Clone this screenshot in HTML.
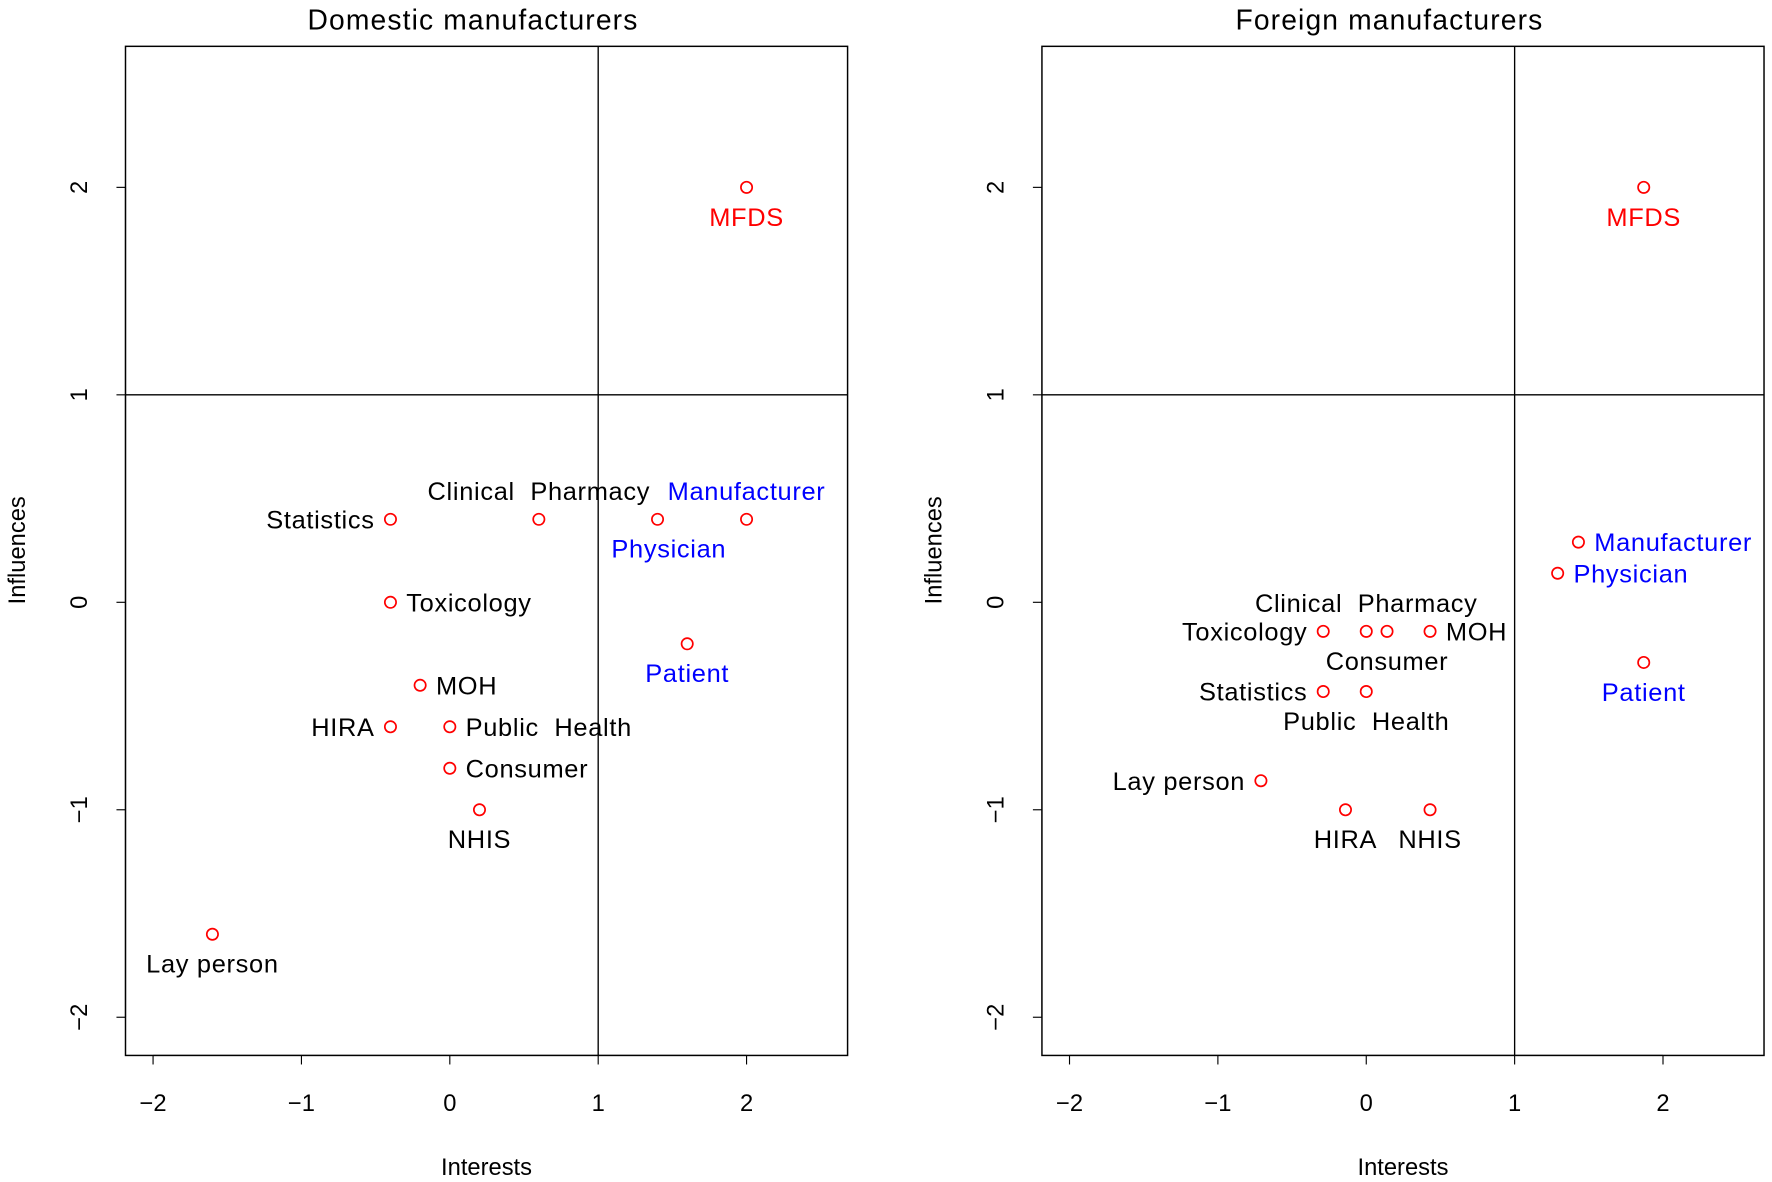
<!DOCTYPE html>
<html><head><meta charset="utf-8"><style>
html,body{margin:0;padding:0;background:#fff;}
svg{display:block;font-family:"Liberation Sans",sans-serif;}
</style></head><body>
<svg id="chart" width="1772" height="1182" viewBox="0 0 1568 1046" xmlns="http://www.w3.org/2000/svg"></svg>
<script>
// Domestic panel data
const domNames = ["MFDS","Manufacturer","Physician","Clinical  Pharmacy","Statistics","Toxicology","Patient","MOH","HIRA","Public  Health","Consumer","NHIS","Lay person"];
const domX = [2,2,1.4,0.6,-0.4,-0.4,1.6,-0.2,-0.4,0,0,0.2,-1.6];
const domY = [2,0.4,0.4,0.4,0.4,0,-0.2,-0.4,-0.6,-0.6,-0.8,-1,-1.6];
const domPos = [1,3,1,3,2,4,1,4,2,4,4,1,1];
const domColor = ["red","blue","blue","black","black","black","blue","black","black","black","black","black","black"];
// Foreign panel data
const forNames = ["MFDS","Manufacturer","Physician","Patient","Clinical  Pharmacy","Toxicology","Consumer","MOH","Statistics","Public  Health","Lay person","HIRA","NHIS"];
const forX = [1.87,1.43,1.29,1.87,0,-0.29,0.14,0.43,-0.29,0,-0.71,-0.14,0.43];
const forY = [2,0.29,0.14,-0.29,-0.14,-0.14,-0.14,-0.14,-0.43,-0.43,-0.86,-1,-1];
const forPos = [1,4,4,1,3,2,1,4,2,1,2,1,1];
const forColor = ["red","blue","blue","blue","black","black","black","black","black","black","black","black","black"];
const xTicks = [-2,-1,0,1,2];
const yTicks = [-2,-1,0,1,2];

const NS="http://www.w3.org/2000/svg";
const svg=document.getElementById('chart');
function mk(tag,attrs,parent){const e=document.createElementNS(NS,tag);for(const k in attrs)e.setAttribute(k,attrs[k]);(parent||svg).appendChild(e);return e;}

function panel(id,title,left,names,xs,ys,pos,cols){
  const g=mk('g',{});
  
  
  const ux=131.3;
  const sx=v=>left+287+v*ux;
  const sy=v=>533-v*183.6;
  const bx=left, bw=639, top=41, bot=934;
  const box=mk('rect',{x:bx,y:top,width:bw,height:bot-top,fill:'none',stroke:'#000','stroke-width':1.3},g);
  
  
  const t=mk('text',{x:bx+bw/2-12,y:26,'text-anchor':'middle','font-size':25,'letter-spacing':'1'},g);t.textContent=title;
  
  
  const vl=mk('line',{x1:sx(1),x2:sx(1),y1:top,y2:bot,stroke:'#000','stroke-width':1.2},g);
  
  
  const hl=mk('line',{x1:bx,x2:bx+bw,y1:sy(1),y2:sy(1),stroke:'#000','stroke-width':1.2},g);
  
  
  mk('line',{x1:sx(xTicks[0]),x2:sx(xTicks[xTicks.length-1]),y1:bot,y2:bot,stroke:'#000'},g);
  xTicks.forEach(v=>{
    mk('line',{x1:sx(v),x2:sx(v),y1:bot,y2:bot+8,stroke:'#000'},g);
    const tx=mk('text',{x:sx(v),y:bot+49,'text-anchor':'middle','font-size':21},g);
    tx.textContent=v<0?'\u2212'+(-v):v;
    
    
  });
  const xl=mk('text',{x:bx+bw/2,y:1040,'text-anchor':'middle','font-size':21},g);xl.textContent='Interests';
  
  
  mk('line',{x1:bx,x2:bx,y1:sy(yTicks[0]),y2:sy(yTicks[yTicks.length-1]),stroke:'#000'},g);
  yTicks.forEach(v=>{
    mk('line',{x1:bx-8,x2:bx,y1:sy(v),y2:sy(v),stroke:'#000'},g);
    const ty=mk('text',{x:0,y:0,'text-anchor':'middle','font-size':21,transform:`translate(${bx-34},${sy(v)}) rotate(-90)`},g);
    ty.textContent=v<0?'\u2212'+(-v):v;
    
    
  });
  const yl=mk('text',{x:0,y:0,'text-anchor':'middle','font-size':21,transform:`translate(${bx-89},487) rotate(-90)`},g);yl.textContent='Influences';
  
  
  names.forEach((n,i)=>{
    const px=sx(xs[i]),py=sy(ys[i]);
    const c=mk('circle',{cx:px,cy:py,r:5,fill:'none',stroke:'#f00','stroke-width':1.5},g);
    
    
    let lx=px,ly=py+8,anc='middle';
    if(pos[i]===1){ly=py+34;}
    else if(pos[i]===3){ly=py-17;}
    else if(pos[i]===2){lx=px-14;anc='end';}
    else {lx=px+14;anc='start';}
    if(id==='domestic'&&n==='Physician')lx+=10;
    const l=mk('text',{x:lx,y:ly,'text-anchor':anc,'font-size':22.5,'letter-spacing':'0.6',fill:cols[i],'xml:space':'preserve'},g);
    l.style.whiteSpace='pre';
    l.textContent=n;
    
    
  });
}
panel('domestic','Domestic manufacturers',111,domNames,domX,domY,domPos,domColor);
panel('foreign','Foreign manufacturers',922,forNames,forX,forY,forPos,forColor);
</script>
</body></html>
